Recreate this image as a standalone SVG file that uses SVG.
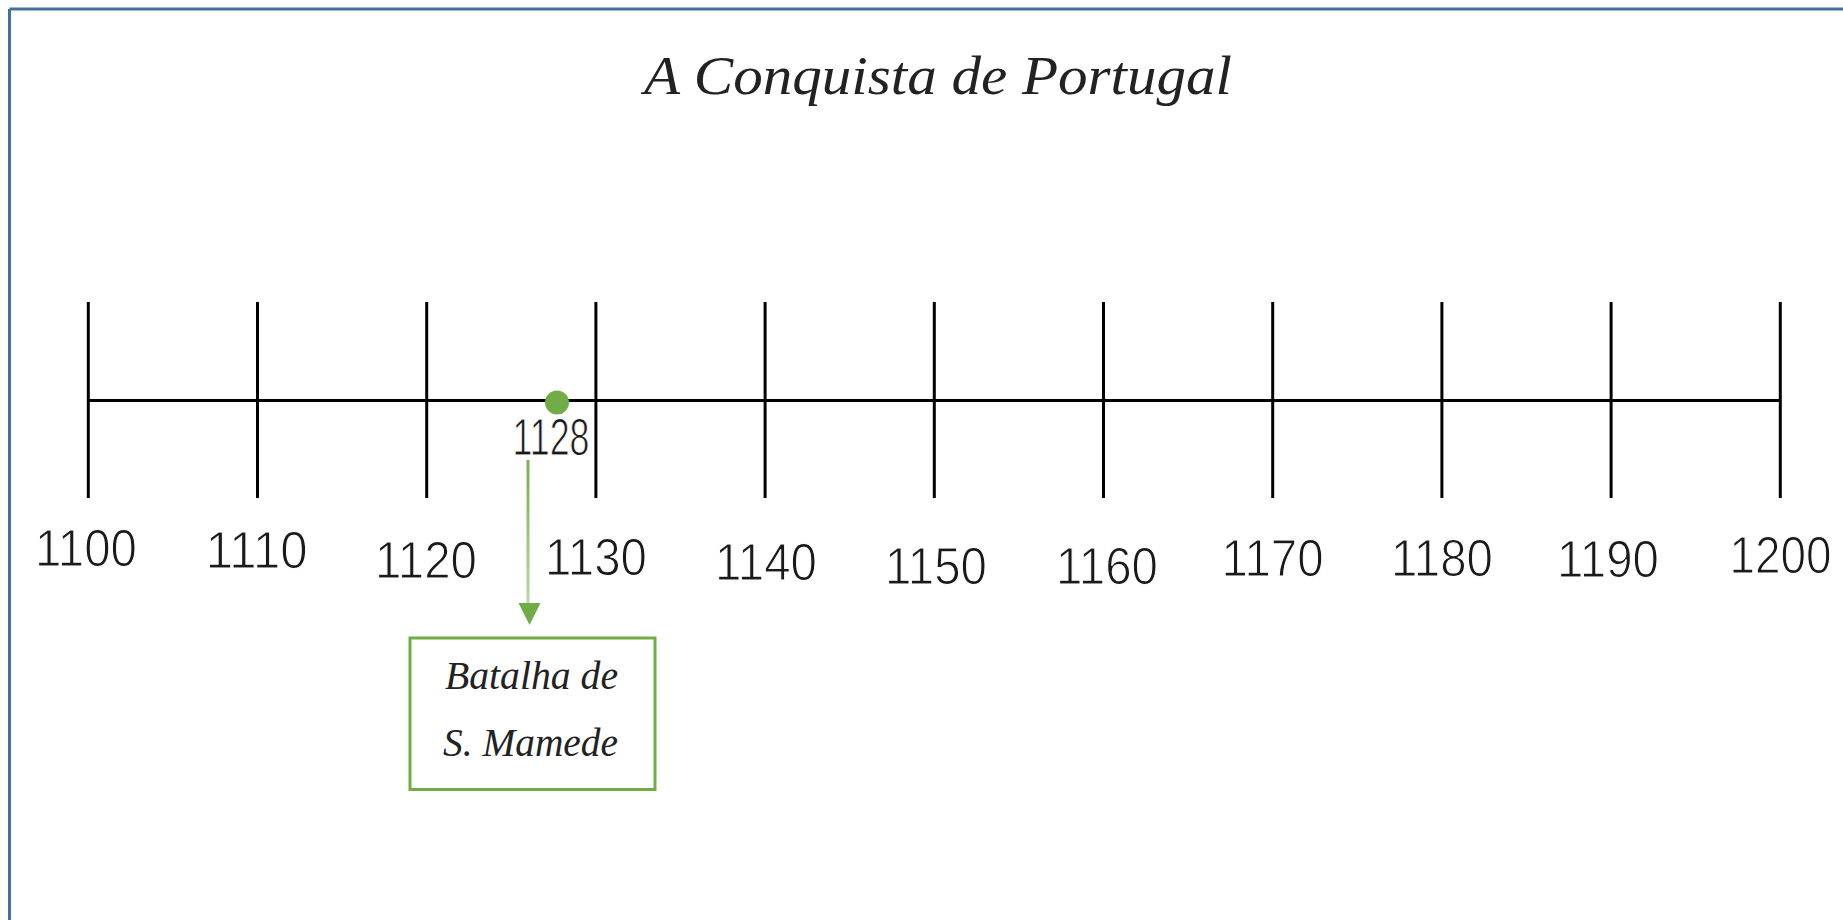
<svg xmlns="http://www.w3.org/2000/svg" width="1843" height="920" viewBox="0 0 1843 920">
  <defs>
    <style>
      .tick { stroke: #000; stroke-width: 3; }
      .axis { stroke: #000; stroke-width: 3; }
      .yr { font-family: "Liberation Sans", Arial, sans-serif; font-size: 52px; fill: #1a1a1a; stroke: #fff; stroke-width: 1.1px; text-anchor: middle; }
      .script { font-family: "Liberation Serif", "DejaVu Serif", serif; font-style: italic; fill: #222; }
    </style>
    <linearGradient id="arrowGrad" gradientUnits="userSpaceOnUse" x1="0" y1="460" x2="0" y2="605">
      <stop offset="0" stop-color="#78B24F"/>
      <stop offset="1" stop-color="#B9D9A4"/>
    </linearGradient>
  </defs>
  <rect x="0" y="0" width="1843" height="920" fill="#fff"/>
  <g id="frame">
    <line x1="9.5" y1="9" x2="1843" y2="9" stroke="#41719C" stroke-width="3"/>
    <line x1="9.5" y1="9" x2="9.5" y2="920" stroke="#41719C" stroke-width="3"/>
  </g>
  <g id="title">
    <text class="script" x="938" y="94" font-size="54" text-anchor="middle" textLength="588" lengthAdjust="spacingAndGlyphs">A Conquista de Portugal</text>
  </g>
  <g id="axis">
    <line class="axis" x1="88.3" y1="400.5" x2="1780.3" y2="400.5"/>
    <line class="tick" x1="88.3" y1="302" x2="88.3" y2="498"/>
    <line class="tick" x1="257.5" y1="302" x2="257.5" y2="498"/>
    <line class="tick" x1="426.7" y1="302" x2="426.7" y2="498"/>
    <line class="tick" x1="595.9" y1="302" x2="595.9" y2="498"/>
    <line class="tick" x1="765.1" y1="302" x2="765.1" y2="498"/>
    <line class="tick" x1="934.3" y1="302" x2="934.3" y2="498"/>
    <line class="tick" x1="1103.5" y1="302" x2="1103.5" y2="498"/>
    <line class="tick" x1="1272.7" y1="302" x2="1272.7" y2="498"/>
    <line class="tick" x1="1441.9" y1="302" x2="1441.9" y2="498"/>
    <line class="tick" x1="1611.1" y1="302" x2="1611.1" y2="498"/>
    <line class="tick" x1="1780.3" y1="302" x2="1780.3" y2="498"/>
  </g>
  <g id="labels">
    <text class="yr" x="86" y="566" textLength="102" lengthAdjust="spacingAndGlyphs">1100</text>
    <text class="yr" x="256.7" y="568" textLength="102" lengthAdjust="spacingAndGlyphs">1110</text>
    <text class="yr" x="426" y="578" textLength="102" lengthAdjust="spacingAndGlyphs">1120</text>
    <text class="yr" x="596" y="575" textLength="102" lengthAdjust="spacingAndGlyphs">1130</text>
    <text class="yr" x="766" y="580" textLength="102" lengthAdjust="spacingAndGlyphs">1140</text>
    <text class="yr" x="936" y="584" textLength="102" lengthAdjust="spacingAndGlyphs">1150</text>
    <text class="yr" x="1107" y="584" textLength="102" lengthAdjust="spacingAndGlyphs">1160</text>
    <text class="yr" x="1272.6" y="575.6" textLength="102" lengthAdjust="spacingAndGlyphs">1170</text>
    <text class="yr" x="1442" y="575.6" textLength="102" lengthAdjust="spacingAndGlyphs">1180</text>
    <text class="yr" x="1608" y="577" textLength="102" lengthAdjust="spacingAndGlyphs">1190</text>
    <text class="yr" x="1780.5" y="572.6" textLength="102" lengthAdjust="spacingAndGlyphs">1200</text>
  </g>
  <g id="event-1128">
    <circle cx="557" cy="402.5" r="12" fill="#70AD47"/>
    <text class="yr" x="551" y="455" font-size="42" style="stroke-width:1px" textLength="77" lengthAdjust="spacingAndGlyphs">1128</text>
  </g>
  <g id="connectors">
    <rect x="526.5" y="460" width="3" height="145" fill="url(#arrowGrad)"/>
    <polygon points="518.5,603 540.5,603 529.5,625" fill="#70AD47"/>
  </g>
  <g id="box-batalha">
    <rect x="410" y="638" width="245" height="151.5" fill="#fff" stroke="#70AD47" stroke-width="3"/>
    <text class="script" x="531.5" y="689" font-size="40" text-anchor="middle" textLength="173" lengthAdjust="spacingAndGlyphs">Batalha de</text>
    <text class="script" x="530.5" y="756" font-size="40" text-anchor="middle" textLength="175" lengthAdjust="spacingAndGlyphs">S. Mamede</text>
  </g>
</svg>
